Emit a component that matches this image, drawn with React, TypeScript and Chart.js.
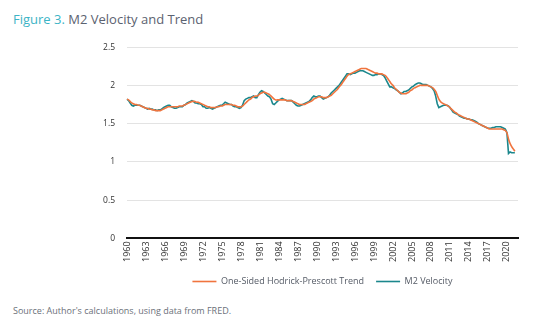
import React, { useEffect, useRef } from "react";
import { Chart, registerables } from "chart.js";

Chart.register(...registerables);

const START_YEAR = 1960;
const END_YEAR = 2021;
const TICK_EVERY_YEARS = 3;

// Quarterly M2 velocity, 1960Q1 - 2021Q2
const m2Velocity: number[] = [
  1.82, 1.8, 1.77, 1.74,
  1.73, 1.74, 1.74, 1.74,
  1.74, 1.73, 1.72, 1.71,
  1.7, 1.69, 1.7, 1.69,
  1.69, 1.68, 1.68, 1.67,
  1.68, 1.68, 1.69, 1.71,
  1.72, 1.73, 1.74, 1.74,
  1.72, 1.71, 1.7, 1.7,
  1.71, 1.72, 1.72, 1.72,
  1.74, 1.75, 1.77, 1.78,
  1.79, 1.8, 1.79, 1.77,
  1.77, 1.76, 1.76, 1.75,
  1.72, 1.72, 1.7, 1.7,
  1.71, 1.7, 1.69, 1.7,
  1.71, 1.72, 1.73, 1.74,
  1.74, 1.76, 1.78, 1.77,
  1.76, 1.75, 1.75, 1.73,
  1.72, 1.72, 1.71, 1.7,
  1.71, 1.74, 1.8, 1.82,
  1.83, 1.84, 1.84, 1.85,
  1.86, 1.84, 1.84, 1.88,
  1.91, 1.93, 1.92, 1.9,
  1.88, 1.86, 1.85, 1.82,
  1.76, 1.75, 1.77, 1.79,
  1.81, 1.82, 1.83, 1.82,
  1.81, 1.8, 1.8, 1.8,
  1.8, 1.78, 1.76, 1.74,
  1.73, 1.73, 1.74, 1.75,
  1.76, 1.77, 1.78, 1.79,
  1.81, 1.84, 1.86, 1.85,
  1.85, 1.86, 1.86, 1.84,
  1.82, 1.83, 1.84, 1.85,
  1.87, 1.9, 1.92, 1.94,
  1.96, 1.98, 2.0, 2.03,
  2.06, 2.09, 2.12, 2.15,
  2.15, 2.14, 2.15, 2.16,
  2.16, 2.17, 2.18, 2.19,
  2.19, 2.19, 2.18, 2.17,
  2.16, 2.15, 2.14, 2.13,
  2.13, 2.14, 2.14, 2.15,
  2.15, 2.14, 2.13, 2.1,
  2.06, 2.02, 1.98, 1.98,
  1.97, 1.96, 1.94, 1.93,
  1.91, 1.89, 1.9, 1.92,
  1.92, 1.93, 1.94, 1.96,
  1.98, 1.99, 2.01, 2.02,
  2.03, 2.03, 2.02, 2.01,
  2.01, 2.01, 2.0, 1.99,
  1.98, 1.96, 1.93, 1.86,
  1.76, 1.71, 1.72, 1.73,
  1.74, 1.74, 1.74, 1.73,
  1.71, 1.68, 1.65, 1.64,
  1.63, 1.62, 1.6, 1.59,
  1.58, 1.57, 1.57, 1.56,
  1.56, 1.55, 1.55, 1.54,
  1.53, 1.52, 1.5, 1.49,
  1.48, 1.47, 1.46, 1.45,
  1.44, 1.44, 1.44, 1.45,
  1.45, 1.46, 1.46, 1.46,
  1.46, 1.45, 1.44, 1.43,
  1.38, 1.11, 1.13, 1.12,
  1.12, 1.12,
];

// One-sided Hodrick-Prescott trend, 1960Q1 - 2021Q2
const hpTrend: number[] = [
  1.82, 1.81, 1.79, 1.77,
  1.76, 1.75, 1.75, 1.74,
  1.74, 1.73, 1.72, 1.71,
  1.7, 1.7, 1.69, 1.69,
  1.68, 1.68, 1.67, 1.67,
  1.67, 1.67, 1.68, 1.69,
  1.7, 1.71, 1.72, 1.72,
  1.72, 1.72, 1.72, 1.72,
  1.72, 1.73, 1.73, 1.73,
  1.74, 1.75, 1.76, 1.77,
  1.78, 1.79, 1.79, 1.79,
  1.78, 1.78, 1.77, 1.76,
  1.75, 1.74, 1.73, 1.72,
  1.72, 1.71, 1.71, 1.71,
  1.71, 1.72, 1.72, 1.73,
  1.73, 1.74, 1.75, 1.75,
  1.75, 1.75, 1.75, 1.74,
  1.74, 1.73, 1.72, 1.72,
  1.72, 1.73, 1.75, 1.77,
  1.79, 1.81, 1.82, 1.84,
  1.85, 1.86, 1.86, 1.87,
  1.89, 1.9, 1.91, 1.91,
  1.9, 1.89, 1.88, 1.86,
  1.84, 1.82, 1.81, 1.81,
  1.81, 1.81, 1.81, 1.81,
  1.81, 1.8, 1.8, 1.8,
  1.8, 1.79, 1.78, 1.77,
  1.76, 1.75, 1.75, 1.75,
  1.75, 1.76, 1.77, 1.78,
  1.79, 1.8, 1.82, 1.83,
  1.84, 1.85, 1.85, 1.85,
  1.84, 1.84, 1.84, 1.85,
  1.86, 1.87, 1.89, 1.91,
  1.93, 1.95, 1.98, 2.0,
  2.03, 2.06, 2.09, 2.12,
  2.14, 2.15, 2.16, 2.17,
  2.18, 2.19, 2.2, 2.21,
  2.22, 2.22, 2.22, 2.22,
  2.21, 2.2, 2.19, 2.18,
  2.17, 2.16, 2.16, 2.15,
  2.15, 2.15, 2.14, 2.13,
  2.11, 2.08, 2.05, 2.02,
  2.0, 1.97, 1.95, 1.93,
  1.91, 1.9, 1.89, 1.89,
  1.89, 1.9, 1.91, 1.93,
  1.94, 1.96, 1.97, 1.98,
  1.99, 2.0, 2.0, 2.0,
  2.0, 2.0, 2.0, 1.99,
  1.98, 1.97, 1.95, 1.92,
  1.87, 1.82, 1.79, 1.77,
  1.76, 1.75, 1.74, 1.73,
  1.71, 1.69, 1.67, 1.65,
  1.64, 1.62, 1.61, 1.6,
  1.59, 1.58, 1.57, 1.56,
  1.56, 1.55, 1.54, 1.53,
  1.52, 1.51, 1.5, 1.49,
  1.48, 1.47, 1.46, 1.45,
  1.44, 1.43, 1.43, 1.43,
  1.43, 1.43, 1.43, 1.43,
  1.43, 1.43, 1.42, 1.41,
  1.38, 1.3, 1.24, 1.2,
  1.17, 1.14,
];

const quarterLabels: string[] = [];
for (let y = START_YEAR; y <= END_YEAR; y++) {
  for (let q = 1; q <= 4; q++) quarterLabels.push(`${y}Q${q}`);
}

const FONT = "'Open Sans', 'DejaVu Sans', sans-serif";
const TEAL = "#1b878c";
const ORANGE = "#f0743e";

export default function App() {
  const ref = useRef<HTMLCanvasElement | null>(null);

  useEffect(() => {
    document.body.style.margin = "0";
    const ctx = ref.current;
    if (!ctx) return;
    const chart = new Chart(ctx, {
      type: "line",
      data: {
        labels: quarterLabels,
        datasets: [
          {
            label: "One-Sided Hodrick-Prescott Trend",
            data: hpTrend,
            borderColor: ORANGE,
            backgroundColor: ORANGE,
            borderWidth: 1.6,
            pointRadius: 0,
            tension: 0.3,
          },
          {
            label: "M2 Velocity",
            data: m2Velocity,
            borderColor: TEAL,
            backgroundColor: TEAL,
            borderWidth: 1.6,
            pointRadius: 0,
            tension: 0,
          },
        ],
      },
      options: {
        animation: false,
        responsive: false,
        maintainAspectRatio: false,
        layout: { padding: { top: 16, right: 16, left: 0, bottom: 0 } },
        plugins: {
          tooltip: { enabled: false },
          legend: {
            position: "bottom",
            fullSize: false,
            labels: {
              usePointStyle: true,
              pointStyle: "line",
              pointStyleWidth: 24,
              color: "#555b66",
              font: { family: FONT, size: 9 },
              padding: 12,
            },
          },
        },
        scales: {
          x: {
            type: "category",
            offset: false,
            grid: { display: false, drawTicks: false },
            border: { display: true, color: "#111", width: 2 },
            ticks: {
              autoSkip: false,
              maxRotation: 90,
              minRotation: 90,
              padding: 3,
              color: "#333",
              font: { family: FONT, size: 9 },
              callback: (_v: any, i: number) =>
                i % (4 * TICK_EVERY_YEARS) === 0 ? quarterLabels[i].slice(0, 4) : null,
            },
          },
          y: {
            min: 0,
            max: 2.5,
            afterFit: (s: any) => {
              s.width = 127;
            },
            ticks: {
              stepSize: 0.5,
              padding: 12,
              color: "#333",
              font: { family: FONT, size: 8.5 },
              callback: (v: any) => String(Number(v)),
            },
            grid: { color: "#e3e3e3", lineWidth: 1, drawTicks: false },
            border: { display: false },
          },
        },
      },
    });
    return () => chart.destroy();
  }, []);

  return (
    <div style={{ position: "relative", width: 534, height: 324, background: "#fff", fontFamily: FONT }}>
      <div style={{ position: "absolute", left: 13, top: 10, fontSize: 13, color: "#5b6270", whiteSpace: "nowrap" }}>
        <span style={{ color: "#3cb4c6" }}>Figure 3.</span> M2 Velocity and Trend
      </div>
      <canvas ref={ref} width={534} height={266} style={{ position: "absolute", left: 0, top: 30 }} />
      <div style={{ position: "absolute", left: 13, top: 304, fontSize: 9, color: "#6b7079", whiteSpace: "nowrap" }}>
        Source: Author's calculations, using data from FRED.
      </div>
    </div>
  );
}
